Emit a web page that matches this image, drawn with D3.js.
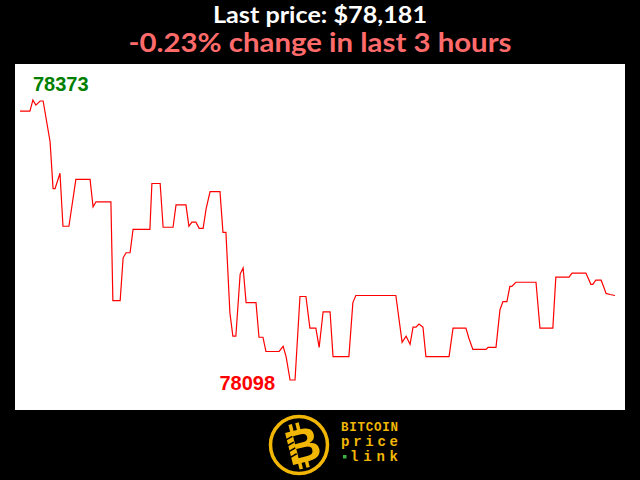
<!DOCTYPE html>
<html>
<head>
<meta charset="utf-8">
<script src="https://cdn.jsdelivr.net/npm/d3@7"></script>
<style>
  html, body { margin: 0; padding: 0; background: #000; }
  svg { display: block; }
</style>
</head>
<body>
<script>
// ---- data ----
const titleLine1 = "Last price: $78,181";
const titleLine2 = "-0.23% change in last 3 hours";
const brandLines = ["BITCOIN", "price", "link"];

// minutes since start of 3-hour window (vertices of the price line)
const minutes = [0, 3.0, 3.9, 4.8, 6.1, 7.0, 9.1, 10.0, 10.6, 12.1, 13.0, 14.8, 16.9, 21.2, 22.1, 23.0,
  27.5, 28.1, 30.3, 31.2, 32.1, 33.3, 34.2, 39.3, 39.9, 42.4, 43.3, 46.3, 47.2, 50.2, 51.1, 52.0,
  53.2, 54.2, 55.4, 56.3, 57.5, 60.5, 61.4, 62.3, 63.5, 64.4, 65.3, 66.6, 67.5, 68.4, 71.4, 72.3,
  73.5, 74.4, 78.4, 79.6, 80.5, 81.7, 83.2, 84.7, 86.5, 87.7, 89.5, 90.5, 91.7, 93.8, 94.7, 99.5,
  100.7, 101.6, 113.7, 115.6, 116.8, 118.0, 118.9, 119.8, 120.7, 121.9, 122.8, 129.8, 131.0, 134.9,
  135.8, 137.0, 141.0, 141.6, 144.0, 145.2, 146.1, 147.3, 148.2, 148.8, 150.0, 156.1, 157.3, 161.2,
  162.1, 166.1, 167.0, 171.2, 172.7, 173.3, 174.2, 175.8, 176.4, 177.3, 178.5, 180.0];
const prices = [78362, 78362, 78373, 78368, 78372, 78372, 78332, 78286, 78286, 78301, 78249, 78249, 78295, 78295, 78268, 78273,
  78273, 78176, 78176, 78218, 78223, 78223, 78246, 78246, 78291, 78291, 78248, 78248, 78270, 78270, 78249, 78253,
  78253, 78247, 78247, 78266, 78283, 78283, 78243, 78243, 78164, 78141, 78141, 78202, 78208, 78174, 78174, 78140,
  78140, 78126, 78126, 78131, 78121, 78098, 78098, 78180, 78180, 78149, 78149, 78130, 78165, 78165, 78121, 78121,
  78174, 78181, 78181, 78135, 78141, 78133, 78150, 78150, 78153, 78150, 78121, 78121, 78149, 78149,
  78139, 78128, 78128, 78130, 78130, 78167, 78175, 78175, 78190, 78190, 78194, 78194, 78149, 78149,
  78199, 78199, 78203, 78203, 78192, 78192, 78196, 78196, 78191, 78183, 78182, 78181];

const W = 640, H = 480;
const svg = d3.select("body").append("svg").attr("width", W).attr("height", H);
svg.append("rect").attr("width", W).attr("height", H).attr("fill", "#000");

// titles
svg.append("text").text(titleLine1)
  .attr("x", 320).attr("y", 23).attr("text-anchor", "middle")
  .attr("font-family", "Lato, 'Open Sans', sans-serif").attr("font-weight", 700)
  .attr("font-size", 23.5).attr("fill", "#ffffff")
  .attr("textLength", 214).attr("lengthAdjust", "spacingAndGlyphs");
svg.append("text").text(titleLine2)
  .attr("x", 320).attr("y", 52).attr("text-anchor", "middle")
  .attr("font-family", "Lato, 'Open Sans', sans-serif").attr("font-weight", 700)
  .attr("font-size", 26.5).attr("fill", "#ff6b6b")
  .attr("textLength", 383).attr("lengthAdjust", "spacingAndGlyphs");

// white chart panel
svg.append("rect").attr("x", 15).attr("y", 64).attr("width", 610).attr("height", 346).attr("fill", "#fff");

const data = minutes.map((m, i) => ({ t: m, p: prices[i] }));
const minP = d3.min(prices), maxP = d3.max(prices);
const x = d3.scaleLinear().domain([0, 180]).range([20, 615]);
const y = d3.scaleLinear().domain([minP, maxP]).range([380, 100]);

svg.append("path").datum(data)
  .attr("fill", "none").attr("stroke", "#ff0000").attr("stroke-width", 1.2)
  .attr("stroke-linejoin", "miter")
  .attr("d", d3.line().x(d => x(d.t)).y(d => y(d.p)));

const maxD = data.find(d => d.p === maxP);
const minD = data.find(d => d.p === minP);
svg.append("text").text(String(maxP))
  .attr("x", x(maxD.t)).attr("y", y(maxD.p) - 9)
  .attr("font-family", "'Liberation Sans', Arial, sans-serif").attr("font-weight", 700)
  .attr("font-size", 20).attr("fill", "#008000");
svg.append("text").text(String(minP))
  .attr("x", x(minD.t) - 15).attr("y", y(minD.p) + 10).attr("text-anchor", "end")
  .attr("font-family", "'Liberation Sans', Arial, sans-serif").attr("font-weight", 700)
  .attr("font-size", 20).attr("fill", "#ff0000");

// logo
const gold = "#f2b705";
const logo = svg.append("g");
logo.append("circle").attr("cx", 299).attr("cy", 445).attr("r", 28.5)
  .attr("fill", "#000").attr("stroke", gold).attr("stroke-width", 3.5);
const bg = logo.append("g").attr("transform", "translate(303,446) rotate(-14)");
bg.append("rect").attr("x", -9).attr("y", -24).attr("width", 3.5).attr("height", 8).attr("fill", gold);
bg.append("rect").attr("x", -2).attr("y", -24).attr("width", 3.5).attr("height", 8).attr("fill", gold);
bg.append("rect").attr("x", -9).attr("y", 14).attr("width", 3.5).attr("height", 8).attr("fill", gold);
bg.append("rect").attr("x", -2).attr("y", 14).attr("width", 3.5).attr("height", 8).attr("fill", gold);
bg.append("text").text("B").attr("x", 0).attr("y", 16).attr("text-anchor", "middle")
  .attr("font-family", "'Liberation Sans', Arial, sans-serif").attr("font-weight", 900)
  .attr("font-size", 48).attr("fill", gold);
bg.append("path").attr("d", "M-15,-10 L-8,-12 M-15,-4 L-8,-6 M-15,2 L-8,0 M-15,8 L-8,6")
  .attr("stroke", "#000").attr("stroke-width", 1.5);

const bx = 341;
const brandY = [431, 446, 461];
const brandLen = [57, 57, 48];
const brandSize = [12.5, 14, 14];
const brandX = [bx, bx, bx + 9];
brandLines.forEach((s, i) => {
  svg.append("text").text(s)
    .attr("x", brandX[i]).attr("y", brandY[i])
    .attr("font-family", "'Liberation Mono', 'DejaVu Sans Mono', monospace").attr("font-weight", 700)
    .attr("font-size", brandSize[i]).attr("fill", gold)
    .attr("textLength", brandLen[i]).attr("lengthAdjust", "spacing");
});
svg.append("rect").attr("x", 343).attr("y", 455).attr("width", 3.5).attr("height", 3.5).attr("fill", "#3cb043");
</script>
</body>
</html>
